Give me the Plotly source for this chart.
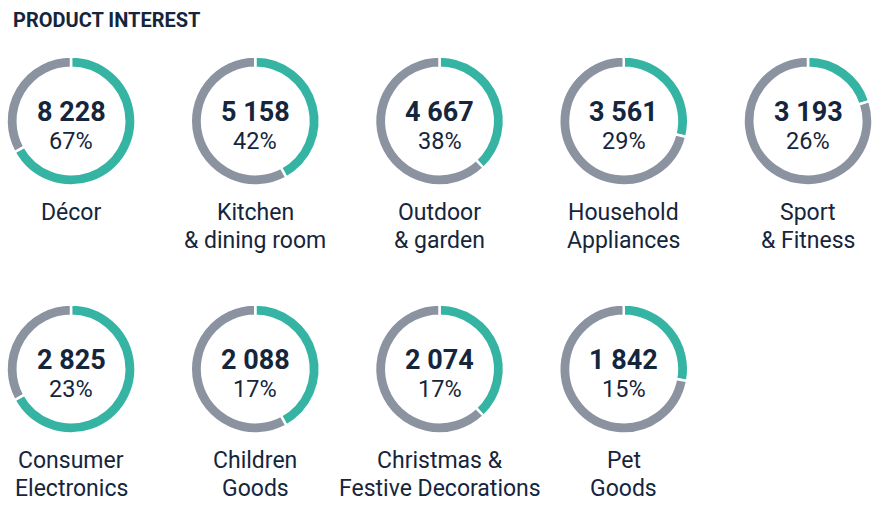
import plotly.graph_objects as go

# ---- data ----
categories = [
    "Décor",
    "Kitchen<br>& dining room",
    "Outdoor<br>& garden",
    "Household<br>Appliances",
    "Sport<br>& Fitness",
    "Consumer<br>Electronics",
    "Children<br>Goods",
    "Christmas &<br>Festive Decorations",
    "Pet<br>Goods",
]
counts = [8228, 5158, 4667, 3561, 3193, 2825, 2088, 2074, 1842]
percent_labels = [67, 42, 38, 29, 26, 23, 17, 17, 15]
# share of the ring drawn in teal, as it appears in the picture
arc_share = [67, 42, 38, 29, 20, 67, 42, 38, 28]

# ---- styling / layout ----
W, H = 879, 509
TEAL = "#35b4a4"
GREY = "#8a939f"
NAVY = "#15253c"
FONT = "Roboto"
R = 64.5
COLS = 5
X0, DX = 71, 184.25
Y0, DY = 121, 248
LINE_GAP = 28

fig = go.Figure()
annotations = []

for i, (cat, n, p, s) in enumerate(zip(categories, counts, percent_labels, arc_share)):
    row, col = divmod(i, COLS)
    cx = X0 + col * DX
    cy = Y0 + row * DY
    fig.add_trace(go.Pie(
        values=[s, 100 - s],
        sort=False,
        direction="clockwise",
        rotation=0,
        hole=0.825,
        marker=dict(colors=[TEAL, GREY], line=dict(color="white", width=2.5)),
        textinfo="none",
        hoverinfo="skip",
        showlegend=False,
        domain=dict(x=[(cx - R) / W, (cx + R) / W],
                    y=[1 - (cy + R) / H, 1 - (cy - R) / H]),
    ))
    annotations.append(dict(
        x=cx / W, y=1 - (cy - 9) / H, xref="paper", yref="paper",
        text=f"<b>{n:,}</b>".replace(",", " "), showarrow=False,
        xanchor="center", yanchor="middle",
        font=dict(family=FONT, size=27, color=NAVY)))
    annotations.append(dict(
        x=cx / W, y=1 - (cy + 20) / H, xref="paper", yref="paper",
        text=f"{p}%", showarrow=False,
        xanchor="center", yanchor="middle",
        font=dict(family=FONT, size=23.5, color=NAVY)))
    for k, line in enumerate(cat.split("<br>")):
        annotations.append(dict(
            x=cx / W, y=1 - (cy + 91 + k * LINE_GAP) / H, xref="paper", yref="paper",
            text=line, showarrow=False,
            xanchor="center", yanchor="middle",
            font=dict(family=FONT, size=23, color=NAVY)))

annotations.append(dict(
    x=11 / W, y=1 - 20 / H, xref="paper", yref="paper",
    text="<b>PRODUCT INTEREST</b>", showarrow=False,
    xanchor="left", yanchor="middle",
    font=dict(family=FONT, size=20, color=NAVY)))

fig.update_layout(
    width=W, height=H,
    margin=dict(l=0, r=0, t=0, b=0),
    paper_bgcolor="white", plot_bgcolor="white",
    annotations=annotations,
)

fig.write_html(
    "out.html",
    config={"displayModeBar": False},
    post_script="document.body.style.margin='0';document.body.style.padding='0';",
)
